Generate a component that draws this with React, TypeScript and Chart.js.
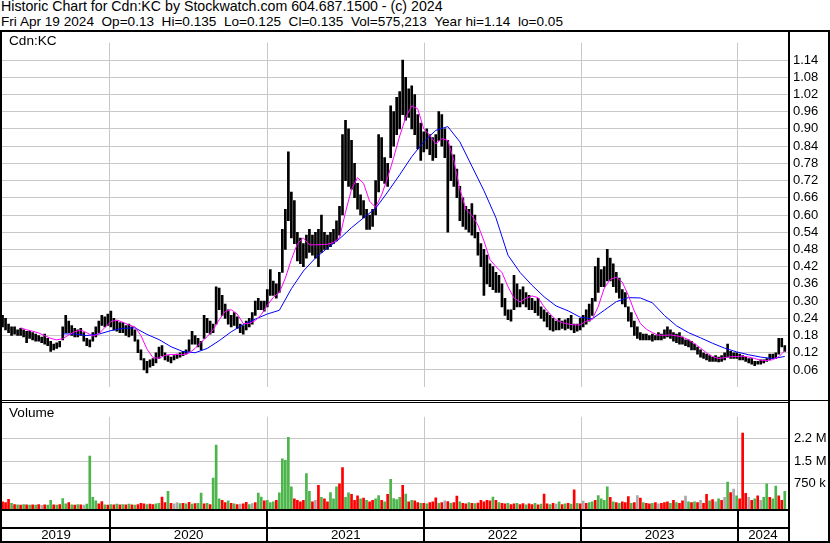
import React, { useEffect, useRef } from 'react';
import { Chart, registerables } from 'chart.js';

Chart.register(...registerables);

// ---------- data (weekly) ----------
const START_UTC = Date.UTC(2019, 3, 19); // day 0
const YEARS = [2019, 2020, 2021, 2022, 2023, 2024];
const PRICE_TICKS = [0.06, 0.12, 0.18, 0.24, 0.3, 0.36, 0.42, 0.48, 0.54, 0.6, 0.66, 0.72, 0.78, 0.84, 0.9, 0.96, 1.02, 1.08, 1.14];
const VOLUME_TICKS = [750000, 1500000, 2250000];
const VOLUME_TICK_LABELS = ['750 k', '1.5 M', '2.2 M'];

const HIGH = [
  .25, .24, .22, .21, .21, .20, .205, .20, .195, .195,
  .19, .185, .18, .175, .185, .17, .16, .15, .155, .16,
  .21, .25, .23, .215, .205, .20, .205, .19, .17, .165,
  .19, .21, .23, .25, .245, .255, .265, .24, .23, .225,
  .225, .215, .22, .21, .20, .165, .13, .10, .09, .095,
  .10, .12, .14, .145, .12, .11, .105, .11, .115, .12,
  .125, .13, .165, .195, .18, .17, .16, .25, .24, .23,
  .22, .35, .345, .32, .29, .27, .25, .26, .245, .22,
  .215, .23, .24, .26, .30, .31, .30, .30, .34, .41,
  .37, .36, .40, .55, .62, .82, .68, .65, .54, .52,
  .50, .53, .55, .53, .54, .55, .60, .54, .53, .54,
  .55, .58, .63, .88, .93, .90, .86, .78, .71, .67,
  .65, .62, .60, .62, .72, .88, .87, .80, .78, .98,
  .96, 1.01, 1.03, 1.14, 1.08, 1.04, 1.05, 1.02, .95, .92,
  .89, .90, .88, .87, .88, .96, .95, .90, .86, .84,
  .81, .76, .70, .66, .63, .62, .64, .60, .54, .50,
  .48, .46, .43, .42, .40, .39, .36, .31, .27, .27,
  .39, .36, .34, .35, .33, .32, .31, .30, .31, .28,
  .27, .26, .25, .24, .23, .24, .23, .235, .24, .25,
  .22, .22, .24, .25, .27, .29, .31, .42, .45, .41,
  .42, .48, .45, .43, .40, .38, .34, .33, .28, .26,
  .23, .21, .19, .185, .185, .18, .185, .18, .19, .185,
  .20, .21, .20, .19, .185, .19, .175, .165, .165, .16,
  .15, .14, .13, .12, .115, .11, .105, .11, .105, .11,
  .12, .15, .125, .12, .12, .115, .11, .105, .10, .10,
  .09, .09, .095, .095, .10, .115, .115, .12, .17, .17, .145
];

const LOW = [
  .21, .20, .19, .18, .185, .18, .18, .175, .155, .17,
  .165, .16, .16, .155, .15, .145, .125, .13, .135, .14,
  .165, .19, .19, .18, .175, .175, .18, .16, .145, .14,
  .16, .175, .19, .215, .21, .215, .21, .20, .195, .19,
  .19, .18, .175, .18, .16, .12, .095, .06, .05, .07,
  .075, .085, .10, .11, .095, .09, .085, .095, .10, .105,
  .11, .115, .125, .15, .15, .14, .13, .17, .19, .185,
  .19, .22, .27, .25, .24, .22, .21, .215, .205, .19,
  .185, .20, .21, .22, .25, .27, .27, .265, .28, .32,
  .32, .31, .33, .40, .48, .58, .52, .50, .44, .43,
  .42, .45, .47, .46, .45, .42, .47, .48, .48, .49,
  .50, .51, .53, .60, .72, .70, .69, .66, .62, .60,
  .59, .55, .55, .56, .60, .68, .72, .71, .70, .80,
  .84, .88, .90, .95, .93, .94, .90, .88, .83, .79,
  .82, .83, .81, .79, .80, .86, .84, .80, .54, .72,
  .70, .66, .58, .56, .55, .54, .53, .52, .46, .42,
  .32, .36, .35, .34, .33, .33, .28, .25, .235, .23,
  .27, .28, .28, .29, .28, .27, .27, .26, .25, .24,
  .23, .21, .20, .195, .20, .20, .205, .20, .205, .20,
  .19, .195, .20, .21, .22, .23, .25, .30, .33, .35,
  .35, .37, .37, .35, .33, .31, .29, .28, .23, .21,
  .18, .17, .165, .165, .165, .165, .16, .165, .165, .165,
  .17, .175, .17, .16, .155, .15, .15, .145, .14, .13,
  .13, .115, .105, .10, .095, .09, .09, .09, .088, .09,
  .095, .105, .10, .10, .10, .095, .095, .09, .085, .08,
  .075, .08, .08, .085, .09, .095, .10, .10, .115, .14, .125
];

// short moving average (magenta), one value every 2 weeks
const MA_SHORT = [
  null, null, null, .207, .20, .195, .189, .18, .17, .165,
  .169, .182, .193, .199, .19, .178, .186, .208, .228, .234,
  .226, .217, .21, .18, .133, .103, .101, .111, .114, .114,
  .113, .119, .135, .157, .176, .20, .235, .264, .27, .255,
  .222, .222, .232, .253, .285, .313, .33, .38, .445, .50,
  .52, .496, .496, .497, .498, .504, .52, .61, .69, .73,
  .71, .648, .627, .67, .73, .80, .875, .94, .98, .97,
  .90, .878, .848, .866, .86, .79, .69, .62, .598, .565,
  .51, .445, .42, .40, .35, .311, .297, .31, .318, .312,
  .28, .255, .235, .225, .22, .217, .217, .23, .236, .281,
  .345, .376, .383, .366, .32, .265, .222, .202, .19, .181,
  .181, .182, .179, .175, .165, .152, .136, .12, .107, .10,
  .103, .106, .107, .108, .105, .10, .094, .093, .096, .106,
  .127
];

// long moving average (blue), one value every 4 weeks
const MA_LONG = [
  null, null, null, null, null, .186, .185, .18, .185, .197,
  .205, .207, .184, .166, .141, .124, .12, .135, .162, .193,
  .218, .237, .255, .268, .343, .405, .45, .485, .517, .556,
  .59, .623, .68, .74, .803, .855, .895, .908, .855, .77,
  .685, .59, .46, .40, .355, .315, .283, .266, .244, .238,
  .268, .298, .312, .311, .294, .25, .214, .19, .172, .153,
  .136, .123, .113, .105, .10, .107
];

// weekly volume, millions of shares
const VOLUME_M = [
  .15, .12, .23, .1, .06, .05, .04, .06, .05, .04,
  .05, .04, .06, .03, .05, .04, .2, .05, .04, .06,
  .26, .08, .12, .05, .04, .06, .05, .04, .07, 1.67,
  .3, .18, .08, .16, .05, .04, .06, .05, .07, .05,
  .06, .05, .07, .05, .04, .06, .1, .08, .06, .07,
  .06, .08, .1, .31, .12, .5, .1, .08, .12, .09,
  .1, .08, .13, .07, .09, .1, .44, .08, .1, .06,
  .94, 2.04, .25, .2, .12, .18, .1, .08, .06, .07,
  .08, .13, .06, .09, .12, .44, .31, .18, .2, .12,
  .15, .2, .45, 1.58, 1.53, 2.3, .65, .25, .2, .15,
  .2, 1.09, .5, .15, .2, .7, .3, .25, .15, .46,
  .25, .65, .75, 1.29, .3, .45, .4, .2, .35, .25,
  .27, .2, .15, .2, .25, .36, .2, .15, .4, .9,
  .26, .22, .3, .7, .41, .15, .2, .18, .12, .1,
  .1, .08, .12, .15, .28, .1, .12, .18, .16, .1,
  .12, .34, .15, .1, .08, .12, .1, .09, .11, .2,
  .15, .2, .18, .31, .2, .12, .1, .08, .1, .06,
  .08, .1, .06, .09, .05, .08, .06, .1, .05, .07,
  .41, .08, .06, .1, .07, .15, .06, .08, .1, .07,
  .55, .1, .08, .17, .1, .12, .15, .2, .36, .25,
  .2, .65, .3, .15, .12, .1, .15, .12, .32, .1,
  .12, .36, .27, .12, .1, .08, .1, .12, .08, .1,
  .12, .15, .1, .2, .12, .1, .18, .34, .15, .12,
  .15, .12, .2, .1, .4, .18, .22, .15, .25, .2,
  .3, .81, .46, .57, .35, .25, 2.44, .43, .3, .2,
  .25, .35, .2, .3, .75, .3, .25, .67, .35, .2, .5
];

// r = down, g = up, n = unchanged
const VOLUME_DIR = [
  'rrrgrgrgrg', 'rgrnrggrgr', 'ggrgrgrngg', 'ggrrgrgrgr', 'grgrgrrrgr',
  'rggrrgrnng', 'rgrgrggrgr', 'gggrrgrgrn', 'rrgnrggrgg', 'grgggggrrr',
  'rggrnrgrrg', 'ggrrggrrrg', 'rgrrggrgrg', 'gggrgrgrrg', 'rgrrrgrnrg',
  'rrgrrgrgrr', 'rrrgrgrrgr', 'rgrrgrrgrg', 'rrgrngrgrg', 'rgrnrggrgg',
  'ggrgrgrrrg', 'rnrgrrgrnr', 'rrgrgrrngr', 'grnrrgrngr', 'ngrngrrrnr',
  'grnggrggrrg'
].join('');

// ---------- helpers ----------
const dayOf = (y: number, m: number, d: number) => (Date.UTC(y, m, d) - START_UTC) / 86400000;
const weekDay = (i: number) => 7 * (i + 1);
const X_MIN = 5.75;
const X_MAX = 1834.5;
const YEAR_STARTS = YEARS.slice(1).map((y) => dayOf(y, 0, 1));
const YEAR_MIDS = YEARS.map((y, i) => {
  const a = i === 0 ? X_MIN : YEAR_STARTS[i - 1];
  const b = i === YEARS.length - 1 ? X_MAX : YEAR_STARTS[i];
  return (a + b) / 2;
});

const FONT = "'Liberation Sans', Arial, Helvetica, sans-serif";
const GRID = '#c8c8c8';
const VOL_MIN = -90000;
const VOL_MAX = 2980000;
const DIR_COLOR: Record<string, string> = { g: '#4cb54c', r: '#ff0000', n: '#a9a9a9' };

export default function App() {
  const priceRef = useRef<HTMLCanvasElement | null>(null);
  const volRef = useRef<HTMLCanvasElement | null>(null);

  useEffect(() => {
    const bars = HIGH.map((h, i) => ({ x: weekDay(i), y: [LOW[i], h] }));
    const maShort = MA_SHORT.map((v, k) => ({ x: weekDay(2 * k), y: v }));
    const maLong = MA_LONG.map((v, k) => ({ x: weekDay(4 * k), y: v }));

    const priceChart = new Chart(priceRef.current as HTMLCanvasElement, {
      type: 'bar',
      data: {
        datasets: [
          {
            type: 'line', data: maShort as any, borderColor: '#ff00ff', borderWidth: 1,
            pointRadius: 0, fill: false, tension: 0, spanGaps: false, order: 1,
          } as any,
          {
            type: 'line', data: maLong as any, borderColor: '#0000ff', borderWidth: 1,
            pointRadius: 0, fill: false, tension: 0, spanGaps: false, order: 2,
          } as any,
          {
            type: 'bar', data: bars as any, backgroundColor: '#000000', barThickness: 2,
            grouped: false, order: 3,
          } as any,
        ],
      },
      options: {
        animation: false,
        responsive: false,
        maintainAspectRatio: false,
        layout: { padding: { left: 2, right: 0, top: 0, bottom: 0 } },
        plugins: { legend: { display: false }, tooltip: { enabled: false } },
        scales: {
          x: {
            type: 'linear', min: X_MIN, max: X_MAX, offset: false,
            grid: { color: GRID, drawTicks: false, offset: false },
            border: { display: false },
            ticks: { display: false },
            afterBuildTicks: (s: any) => { s.ticks = YEAR_STARTS.map((v) => ({ value: v })); },
            afterFit: (s: any) => { s.height = 0; },
          },
          y: {
            position: 'right', min: 0, max: 1.2,
            grid: { color: GRID, drawTicks: false },
            border: { display: false },
            ticks: {
              padding: 5, color: '#000', font: { family: FONT, size: 13 },
              callback: (v: any) => Number(v).toFixed(2),
            },
            afterBuildTicks: (s: any) => { s.ticks = PRICE_TICKS.map((v) => ({ value: v })); },
            afterFit: (s: any) => { s.width = 42; },
          },
        } as any,
      },
    });

    const yearLinePlugin = {
      id: 'yearLines',
      afterDraw(chart: any) {
        const ctx = chart.ctx;
        const xs = chart.scales.x;
        const bottom = chart.chartArea.bottom;
        ctx.save();
        ctx.fillStyle = '#000';
        YEAR_STARTS.forEach((d) => {
          const px = Math.round(xs.getPixelForValue(d));
          ctx.fillRect(px - 1, bottom + 2, 2, 30);
        });
        ctx.restore();
      },
    };

    const volChart = new Chart(volRef.current as HTMLCanvasElement, {
      type: 'bar',
      data: {
        datasets: [
          {
            data: VOLUME_M.map((v, i) => ({ x: weekDay(i), y: v * 1000000 })) as any,
            backgroundColor: VOLUME_M.map((_, i) => DIR_COLOR[VOLUME_DIR[i]] || DIR_COLOR.n),
            barThickness: 2,
            base: VOL_MIN,
            grouped: false,
          } as any,
        ],
      },
      options: {
        animation: false,
        responsive: false,
        maintainAspectRatio: false,
        layout: { padding: { left: 2, right: 0, top: 0, bottom: 0 } },
        plugins: { legend: { display: false }, tooltip: { enabled: false } },
        scales: {
          x: {
            type: 'linear', min: X_MIN, max: X_MAX, offset: false,
            grid: {
              drawTicks: false, offset: false,
              color: (c: any) => (c.tick && YEAR_STARTS.includes(c.tick.value) ? GRID : 'rgba(0,0,0,0)'),
            },
            border: { display: false },
            ticks: {
              autoSkip: false, maxRotation: 0, minRotation: 0, padding: 18,
              color: '#000', font: { family: FONT, size: 13.3 },
              callback: (v: any) => {
                const idx = YEAR_MIDS.indexOf(v);
                return idx >= 0 ? String(YEARS[idx]) : '';
              },
            },
            afterBuildTicks: (s: any) => {
              s.ticks = [...YEAR_STARTS, ...YEAR_MIDS].sort((a, b) => a - b).map((v) => ({ value: v }));
            },
            afterFit: (s: any) => { s.height = 34; },
          },
          y: {
            position: 'right', min: VOL_MIN, max: VOL_MAX,
            grid: { color: GRID, drawTicks: false },
            border: { display: false },
            ticks: {
              padding: 6, color: '#000', font: { family: FONT, size: 13 },
              callback: (v: any) => {
                const idx = VOLUME_TICKS.indexOf(v);
                return idx >= 0 ? VOLUME_TICK_LABELS[idx] : '';
              },
            },
            afterBuildTicks: (s: any) => { s.ticks = VOLUME_TICKS.map((v) => ({ value: v })); },
            afterFit: (s: any) => { s.width = 42; },
          },
        } as any,
      },
      plugins: [yearLinePlugin],
    });

    return () => {
      priceChart.destroy();
      volChart.destroy();
    };
  }, []);

  const line = (left: number, top: number, width: number, height: number) => ({
    position: 'absolute' as const, left, top, width, height, background: '#000', zIndex: 2,
  });

  return (
    <div style={{ position: 'fixed', left: 0, top: 0, width: 830, height: 543, background: '#fff', overflow: 'hidden', fontFamily: FONT }}>
      <div style={{ position: 'absolute', left: 1, top: -1, lineHeight: '15px', color: '#000', whiteSpace: 'pre' }}>
        <div style={{ fontSize: '14.2px' }}>Historic Chart for Cdn:KC by Stockwatch.com 604.687.1500 - (c) 2024</div>
        <div style={{ fontSize: '13.6px' }}>Fri Apr 19 2024  Op=0.13  Hi=0.135  Lo=0.125  Cl=0.135  Vol=575,213  Year hi=1.14  lo=0.05</div>
      </div>
      <canvas ref={priceRef} width={830} height={370} style={{ position: 'absolute', left: 0, top: 30 }} />
      <canvas ref={volRef} width={830} height={140} style={{ position: 'absolute', left: 0, top: 403 }} />
      <div style={{ position: 'absolute', left: 9, top: 33, fontSize: '13.6px', lineHeight: '15px', color: '#000', zIndex: 3 }}>Cdn:KC</div>
      <div style={{ position: 'absolute', left: 9, top: 405, fontSize: '13.6px', lineHeight: '15px', color: '#000', zIndex: 3 }}>Volume</div>
      <div style={line(0, 30, 830, 2)} />
      <div style={line(0, 30, 2, 513)} />
      <div style={line(828, 30, 2, 513)} />
      <div style={line(788, 30, 2, 513)} />
      <div style={line(0, 400, 830, 1)} />
      <div style={line(0, 402, 790, 1)} />
      <div style={line(0, 509, 790, 2)} />
      <div style={line(0, 527, 790, 2)} />
      <div style={line(0, 541, 830, 2)} />
    </div>
  );
}
